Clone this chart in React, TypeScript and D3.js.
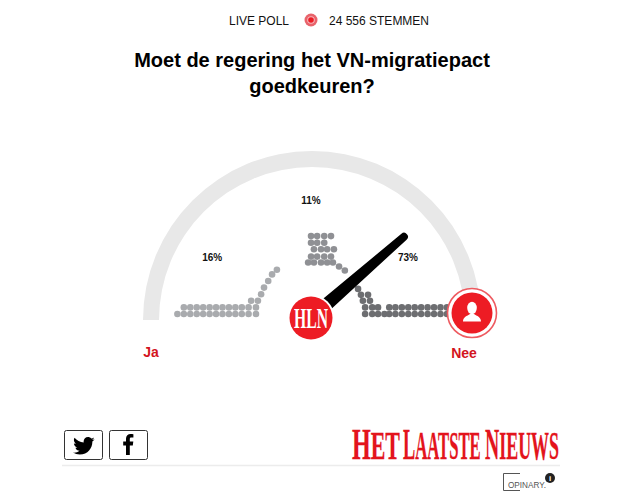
import React from "react";
import * as d3 from "d3";

const header = ["LIVE POLL", "24 556 STEMMEN"];
const titleLines = ["Moet de regering het VN-migratiepact", "goedkeuren?"];
const answers = ["Ja", "Nee"];
const shares = [
  { label: "16%", answer: 19, level: 8.1 },
  { label: "11%", answer: 49.7, level: 16.6 },
  { label: "73%", answer: 79.8, level: 8.1 },
];
const needleValue = 76.8;
const logoWords = [
  { initial: "H", rest: "ET" },
  { initial: "L", rest: "AATSTE" },
  { initial: "N", rest: "IEUWS" },
];

// Every dot: [answer on the 0-100 scale, stack level]
const yesDots: [number, number][] = [
  ...[8.2, 10.2, 12.2, 14.2, 16.2, 18.2, 20.2, 22.2, 24.2, 26.2, 28.2, 30.3, 32.6].map((a) => [a, 0] as [number, number]),
  ...[10.2, 12.2, 14.2, 16.2, 18.2, 20.2, 22.2, 24.2, 26.2, 28.2, 30.3, 32.6].map((a) => [a, 1] as [number, number]),
  [31.1, 2], [33.2, 2], [34.2, 3], [35.1, 4], [36.4, 5], [37.6, 6], [39.1, 6.7],
];
const midDots: [number, number][] = [
  [49.7, 11.8], [51.6, 11.8], [53.8, 11.8], [55.9, 11.8],
  [49.7, 10.8], [51.6, 10.8], [53.8, 10.8],
  [50.6, 9.8], [52.8, 9.8], [54.7, 9.8], [56.8, 9.8],
  [49.7, 8.7], [51.6, 8.7], [53.8, 8.7], [55.9, 8.7],
  [48.8, 7.8], [50.6, 7.8], [52.8, 7.8], [54.7, 7.8], [56.5, 7.8],
  [58.4, 7.2], [60.2, 6.6],
];
const noDots: [number, number][] = [
  [64.3, 3.8], [65.2, 2.9], [67.4, 2.9], [65.8, 2], [68.0, 2],
  [66.5, 1], [68.7, 1], [70.5, 1],
  [74.0, 1], [75.9, 1], [77.9, 1], [79.9, 1], [81.9, 1], [83.9, 1], [85.9, 1], [87.9, 1], [89.9, 1], [91.9, 1],
  [66.5, 0], [68.7, 0], [70.5, 0], [72.5, 0], [74.0, 0], [75.9, 0], [77.9, 0], [79.9, 0], [81.9, 0], [83.9, 0], [85.9, 0], [87.9, 0], [89.9, 0], [91.9, 0],
];

const W = 624;
const H = 503;
const RED = "#ed1c24";
const TEXT_RED = "#d3141e";

const xAnswer = d3.scaleLinear().domain([0, 100]).range([151, 473]);
const yLevel = d3.scaleLinear().domain([0, 1]).range([314, 307.4]);
const gaugeAngle = d3.scaleLinear().domain([0, 100]).range([-Math.PI / 2, Math.PI / 2]);
const arcPath = d3.arc()({ innerRadius: 153, outerRadius: 169, startAngle: gaugeAngle(0), endAngle: gaugeAngle(100) }) as string;

const cx = 312;
const cy = 320;
const hubX = 311;
const hubY = 318;
const dotR = 3.3;
const logoLayout = [
  { x: 352, sx: 0.548 },
  { x: 403, sx: 0.417 },
  { x: 485, sx: 0.448 },
];

function needlePath() {
  const a = gaugeAngle(needleValue);
  const ux = Math.sin(a);
  const uy = -Math.cos(a);
  const nx = -uy;
  const ny = ux;
  const len = 122;
  const tipX = hubX + 2 + ux * len;
  const tipY = hubY + uy * len;
  const baseW = 7.2;
  const tipW = 3.9;
  return [
    `M${hubX + nx * baseW},${hubY + ny * baseW}`,
    `L${tipX + nx * tipW},${tipY + ny * tipW}`,
    `A${tipW},${tipW} 0 0 0 ${tipX - nx * tipW},${tipY - ny * tipW}`,
    `L${hubX - nx * baseW},${hubY - ny * baseW}`,
    "Z",
  ].join(" ");
}

const serif = "'Liberation Serif', serif";
const sans = "'Liberation Sans', Arial, sans-serif";

export default function App() {
  return (
    <svg width={W} height={H} viewBox={`0 0 ${W} ${H}`} style={{ position: "absolute", left: 0, top: 0, background: "#fff" }} fontFamily={sans}>
      <text x={229} y={25} fontSize={12} fill="#111">{header[0]}</text>
      <circle cx={311} cy={20} r={6.5} fill="#e8636b" />
      <circle cx={311} cy={20} r={3.8} fill="#fff" opacity={0.55} />
      <circle cx={311} cy={20} r={2.8} fill={RED} />
      <text x={329} y={25} fontSize={12} fill="#111">{header[1]}</text>

      {titleLines.map((t, i) => (
        <text key={t} x={312} y={67 + i * 26} fontSize={20} fontWeight="bold" textAnchor="middle" fill="#000">{t}</text>
      ))}

      <path d={arcPath} transform={`translate(${cx},${cy})`} fill="#e8e8e8" />

      <g fill="#a9abae">
        {yesDots.map(([a, l], i) => <circle key={i} cx={xAnswer(a)} cy={yLevel(l)} r={dotR} />)}
      </g>
      <g fill="#8f9094">
        {midDots.map(([a, l], i) => <circle key={i} cx={xAnswer(a)} cy={yLevel(l)} r={dotR} />)}
      </g>
      <g fill="#6d6e71">
        {noDots.map(([a, l], i) => <circle key={i} cx={xAnswer(a)} cy={yLevel(l)} r={dotR} />)}
      </g>

      {shares.map((s) => (
        <text key={s.label} x={xAnswer(s.answer)} y={yLevel(s.level)} fontSize={10} fontWeight="bold" textAnchor="middle" fill="#111">{s.label}</text>
      ))}

      <path d={needlePath()} fill="#000" />

      <circle cx={hubX} cy={hubY} r={23.5} fill="#fff" />
      <circle cx={hubX} cy={hubY} r={21.5} fill={RED} />
      <text transform={`translate(${hubX},${hubY + 10}) scale(0.54,1)`} fontFamily={serif} fontSize={29} fontWeight="bold" fill="#fff" textAnchor="middle">HLN</text>

      <circle cx={472} cy={313} r={24.5} fill="#fff" stroke="#ee5a60" strokeWidth={1.6} />
      <circle cx={472} cy={313} r={20.5} fill={RED} />
      <g fill="#fff">
        <ellipse cx={472} cy={308} rx={4.8} ry={6.2} />
        <path d="M463,321.5 C463,317 467,316 470,314 L474,314 C477,316 481,317 481,321.5 Z" />
      </g>

      <text x={151} y={357} fontSize={14} fontWeight="bold" textAnchor="middle" fill={TEXT_RED}>{answers[0]}</text>
      <text x={464} y={358} fontSize={14} fontWeight="bold" textAnchor="middle" fill={TEXT_RED}>{answers[1]}</text>

      <rect x={64.5} y={430.5} width={38} height={29} rx={2} fill="#fff" stroke="#333" />
      <path transform="translate(73,435) scale(0.9)" fill="#000"
        d="M24 4.6c-.9.4-1.8.7-2.8.8 1-.6 1.8-1.6 2.2-2.7-1 .6-2 1-3.1 1.2C19.4 2.9 18.1 2.3 16.7 2.3c-2.7 0-4.9 2.2-4.9 4.9 0 .4 0 .8.1 1.1C7.8 8.1 4.2 6.1 1.7 3.1 1.3 3.9 1 4.7 1 5.6c0 1.7.9 3.2 2.2 4.1-.8 0-1.6-.2-2.2-.6v.1c0 2.4 1.7 4.4 3.9 4.8-.4.1-.8.2-1.3.2-.3 0-.6 0-.9-.1.6 2 2.4 3.4 4.6 3.4-1.7 1.3-3.8 2.1-6.1 2.1-.4 0-.8 0-1.2-.1 2.2 1.4 4.8 2.2 7.5 2.2 9.1 0 14-7.5 14-14v-.6c1-.7 1.8-1.6 2.5-2.5z" />
      <rect x={109.5} y={430.5} width={38} height={29} rx={2} fill="#fff" stroke="#333" />
      <path fill="#000" d="M126,455 V445.5 H123.2 V441.6 H126 V438.8 C126,435.6 128,434 130.6,434 C131.9,434 133,434.1 133.4,434.2 V437.6 H131.4 C130,437.6 129.8,438.3 129.8,439.3 V441.6 H133.3 L132.8,445.5 H129.8 V455 Z" />

      {logoWords.map((w, i) => (
        <text key={w.initial} transform={`translate(${logoLayout[i].x},459) scale(${logoLayout[i].sx},1)`} fontFamily={serif} fontWeight="bold" fill="#e3141c" stroke="#e3141c" strokeWidth={0.3} fontSize={40}>
          <tspan fontSize={44}>{w.initial}</tspan>{w.rest}
        </text>
      ))}

      <line x1={62} x2={560} y1={465.5} y2={465.5} stroke="#ececec" strokeWidth={1.5} />

      <path d="M520,473.5 H503.5 V490.5 H520" fill="none" stroke="#555" strokeWidth={1} />
      <text x={508} y={488} fontSize={8.2} fill="#555">OPINARY.</text>
      <circle cx={550} cy={478} r={5} fill="#222" />
      <text x={550} y={481} fontSize={8} fontWeight="bold" fill="#fff" textAnchor="middle">i</text>
    </svg>
  );
}
